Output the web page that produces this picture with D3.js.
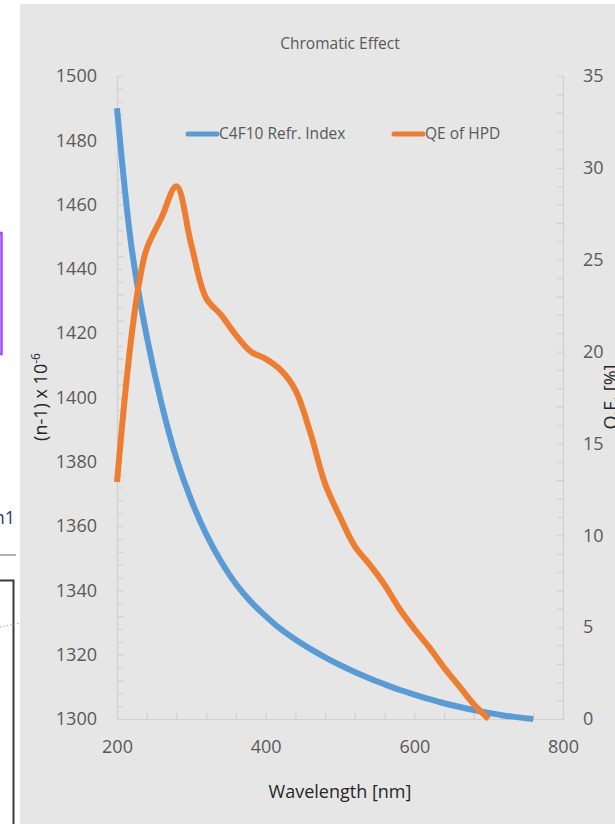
<!DOCTYPE html>
<html>
<head>
<meta charset="utf-8">
<script src="https://cdn.jsdelivr.net/npm/d3@7"></script>
<style>
  html, body { margin: 0; padding: 0; background: #ffffff; }
  svg { display: block; }
  text { font-family: "Open Sans", "DejaVu Sans", sans-serif; }
</style>
</head>
<body>
<svg id="chart" width="615" height="824"></svg>
<script>
// C4F10 refractive index, (n-1) x 10^-6, against wavelength [nm]
const refrWavelength = [200, 220, 240, 260, 280, 300, 320, 340, 360, 380, 400, 420, 440, 460, 480, 500,
                        520, 540, 560, 580, 600, 620, 640, 660, 680, 700, 720, 740, 760];
const refrIndex = [1490, 1446, 1419, 1398, 1381, 1368, 1357.5, 1349, 1342, 1336.5, 1332, 1328, 1324.7, 1321.8, 1319.2, 1316.8,
                   1314.6, 1312.6, 1310.8, 1309.1, 1307.6, 1306.2, 1304.9, 1303.8, 1302.8, 1301.9, 1301.1, 1300.5, 1300];

// Quantum efficiency of the HPD photocathode [%]
const qeWavelength = [200, 210, 220, 230, 240, 260, 280, 300, 320, 340, 360, 380, 400, 420, 440, 460, 480, 500,
                      520, 540, 560, 580, 600, 620, 640, 660, 680, 700];
const qeValues = [12.9, 17.3, 21.0, 23.8, 25.6, 27.3, 29.0, 25.8, 22.9, 22.0, 20.9, 20.0, 19.6, 19.0, 17.9, 15.6, 12.8, 11.0,
                  9.4, 8.4, 7.3, 6.0, 4.9, 3.9, 2.8, 1.8, 0.8, 0.0];

const seriesNames = ["C4F10 Refr. Index", "QE of HPD"];
const xMajorTicks = [200, 400, 600, 800];
const yLeftMajorTicks = [1300, 1320, 1340, 1360, 1380, 1400, 1420, 1440, 1460, 1480, 1500];
const yRightMajorTicks = [0, 5, 10, 15, 20, 25, 30, 35];

const svg = d3.select("#chart");
const blue = "#5b9bd5", orange = "#ed7d31";
const labelGrey = "#595959", titleDark = "#262626", axisGrey = "#d0d0d0";

// Fragments of the neighbouring page on the left margin
const side = svg.append("g");
side.append("rect").attr("x", -12).attr("y", 233).attr("width", 13.5).attr("height", 121)
  .attr("fill", "none").attr("stroke", "#a24cff").attr("stroke-width", 2.5);
side.append("text").attr("x", 15).attr("y", 524).attr("text-anchor", "end")
  .attr("font-family", "'Liberation Serif', serif").attr("font-size", 18).attr("fill", "#2d3a6b").text("n1");
side.append("line").attr("x1", 0).attr("x2", 16).attr("y1", 555).attr("y2", 555)
  .attr("stroke", "#b0b0b0").attr("stroke-width", 2);
side.append("path").attr("d", "M0,580.5H13.5V830").attr("fill", "none")
  .attr("stroke", "#3a3a3a").attr("stroke-width", 2);
side.append("line").attr("x1", 0).attr("x2", 20).attr("y1", 627).attr("y2", 623)
  .attr("stroke", "#aaaaaa").attr("stroke-width", 1).attr("stroke-dasharray", "1.5,2");

// Chart area
svg.append("rect").attr("x", 20).attr("y", 4).attr("width", 600).attr("height", 825).attr("fill", "#e6e6e6");

const x = d3.scaleLinear().domain([200, 800]).range([117, 563]);
const yL = d3.scaleLinear().domain([1300, 1500]).range([719, 76]);
const yR = d3.scaleLinear().domain([0, 35]).range([719, 76]);

const xTickValues = d3.range(200, 801, 40);
const yLTickValues = d3.range(1300, 1501, 4);
const yRTickValues = d3.range(0, 36, 1);

function styleAxis(g) {
  g.select(".domain").attr("stroke", axisGrey).attr("stroke-width", 1.2);
  g.selectAll(".tick line").attr("stroke", axisGrey).attr("stroke-width", 1.2);
  g.selectAll(".tick text").attr("fill", labelGrey).attr("font-size", 18)
    .attr("font-family", "'Open Sans', sans-serif");
}

svg.append("g").attr("transform", "translate(0,719)")
  .call(d3.axisBottom(x).tickValues(xTickValues).tickSizeInner(-6).tickSizeOuter(0).tickPadding(21)
    .tickFormat(d => xMajorTicks.includes(d) ? d : ""))
  .call(styleAxis);

svg.append("g").attr("transform", "translate(117,0)")
  .call(d3.axisLeft(yL).tickValues(yLTickValues).tickSizeInner(-6).tickSizeOuter(0).tickPadding(20)
    .tickFormat(d => yLeftMajorTicks.includes(d) ? d : ""))
  .call(styleAxis);

svg.append("g").attr("transform", "translate(563,0)")
  .call(d3.axisRight(yR).tickValues(yRTickValues).tickSizeInner(-6).tickSizeOuter(0).tickPadding(20)
    .tickFormat(d => yRightMajorTicks.includes(d) ? d : ""))
  .call(styleAxis);

// Series lines
const refrLine = d3.line().x((d, i) => x(refrWavelength[i])).y(d => yL(d)).curve(d3.curveCatmullRom.alpha(0.5));
const qeLine = d3.line().x((d, i) => x(qeWavelength[i])).y(d => yR(d)).curve(d3.curveCatmullRom.alpha(0.5));

svg.append("path").attr("d", refrLine(refrIndex)).attr("fill", "none")
  .attr("stroke", blue).attr("stroke-width", 6).attr("stroke-linejoin", "round");
svg.append("path").attr("d", qeLine(qeValues)).attr("fill", "none")
  .attr("stroke", orange).attr("stroke-width", 6).attr("stroke-linejoin", "round");

// Title
svg.append("text").attr("x", 340).attr("y", 49).attr("text-anchor", "middle")
  .attr("font-size", 15.5).attr("fill", labelGrey).text("Chromatic Effect");

// Legend
const legend = [
  { name: seriesNames[0], color: blue, x: 188 },
  { name: seriesNames[1], color: orange, x: 394 }
];
legend.forEach(l => {
  svg.append("line").attr("x1", l.x).attr("x2", l.x + 29).attr("y1", 134).attr("y2", 134)
    .attr("stroke", l.color).attr("stroke-width", 5).attr("stroke-linecap", "round");
  svg.append("text").attr("x", l.x + 31).attr("y", 139).attr("font-size", 15.5)
    .attr("fill", labelGrey).text(l.name);
});

// Axis titles
svg.append("text").attr("x", 340).attr("y", 798).attr("text-anchor", "middle")
  .attr("font-size", 18).attr("fill", titleDark).text("Wavelength [nm]");

const leftTitle = svg.append("text").attr("transform", "translate(47,397) rotate(-90)")
  .attr("text-anchor", "middle").attr("font-size", 18).attr("fill", titleDark);
leftTitle.append("tspan").text("(n-1) x 10");
leftTitle.append("tspan").attr("dy", -7).attr("font-size", 12).text("-6");

svg.append("text").attr("transform", "translate(617,397) rotate(-90)")
  .attr("text-anchor", "middle").attr("font-size", 18).attr("fill", titleDark).text("Q.E. [%]");
</script>
</body>
</html>
